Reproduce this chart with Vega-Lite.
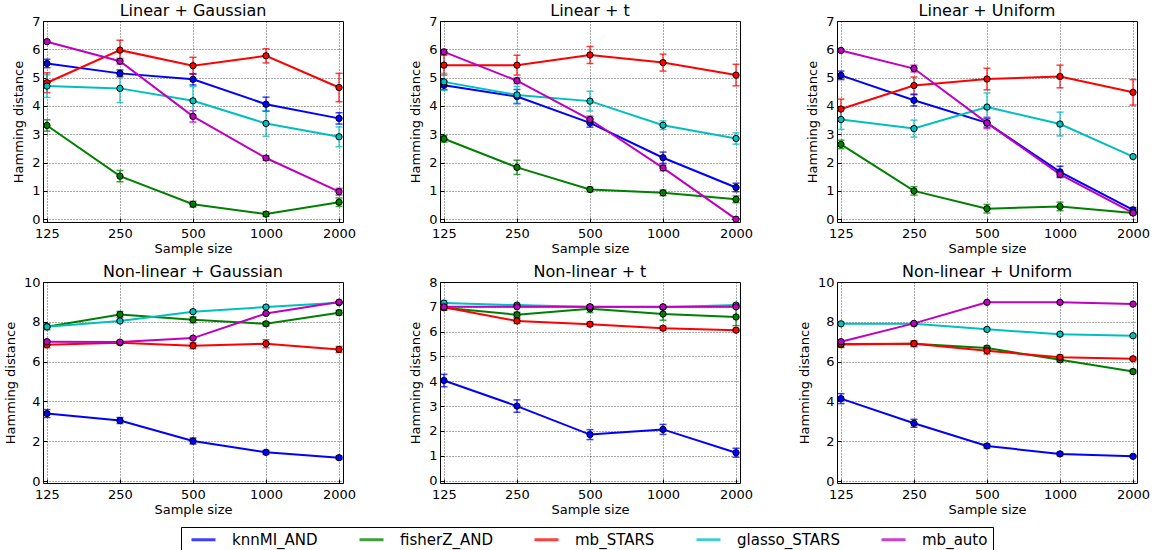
{
  "$schema": "https://vega.github.io/schema/vega-lite/v6.json",
  "padding": {"left": 3, "top": 2, "right": 0, "bottom": 0},
  "background": "white",
  "datasets": {
    "d": [
      {"panel":"LG","method":"knnMI_AND","n":125,"hd":5.50,"err":0.15},
      {"panel":"LG","method":"knnMI_AND","n":250,"hd":5.15,"err":0.12},
      {"panel":"LG","method":"knnMI_AND","n":500,"hd":4.94,"err":0.2},
      {"panel":"LG","method":"knnMI_AND","n":1000,"hd":4.06,"err":0.25},
      {"panel":"LG","method":"knnMI_AND","n":2000,"hd":3.56,"err":0.2},
      {"panel":"LG","method":"fisherZ_AND","n":125,"hd":3.31,"err":0.2},
      {"panel":"LG","method":"fisherZ_AND","n":250,"hd":1.52,"err":0.2},
      {"panel":"LG","method":"fisherZ_AND","n":500,"hd":0.53,"err":0.1},
      {"panel":"LG","method":"fisherZ_AND","n":1000,"hd":0.18,"err":0.08},
      {"panel":"LG","method":"fisherZ_AND","n":2000,"hd":0.60,"err":0.15},
      {"panel":"LG","method":"mb_STARS","n":125,"hd":4.82,"err":0.35},
      {"panel":"LG","method":"mb_STARS","n":250,"hd":5.97,"err":0.35},
      {"panel":"LG","method":"mb_STARS","n":500,"hd":5.42,"err":0.3},
      {"panel":"LG","method":"mb_STARS","n":1000,"hd":5.77,"err":0.25},
      {"panel":"LG","method":"mb_STARS","n":2000,"hd":4.65,"err":0.5},
      {"panel":"LG","method":"glasso_STARS","n":125,"hd":4.70,"err":0.4},
      {"panel":"LG","method":"glasso_STARS","n":250,"hd":4.62,"err":0.5},
      {"panel":"LG","method":"glasso_STARS","n":500,"hd":4.18,"err":0.5},
      {"panel":"LG","method":"glasso_STARS","n":1000,"hd":3.38,"err":0.45},
      {"panel":"LG","method":"glasso_STARS","n":2000,"hd":2.91,"err":0.35},
      {"panel":"LG","method":"mb_auto","n":125,"hd":6.27,"err":0.05},
      {"panel":"LG","method":"mb_auto","n":250,"hd":5.58,"err":0.1},
      {"panel":"LG","method":"mb_auto","n":500,"hd":3.63,"err":0.2},
      {"panel":"LG","method":"mb_auto","n":1000,"hd":2.16,"err":0.08},
      {"panel":"LG","method":"mb_auto","n":2000,"hd":0.97,"err":0.12},

      {"panel":"Lt","method":"knnMI_AND","n":125,"hd":4.73,"err":0.15},
      {"panel":"Lt","method":"knnMI_AND","n":250,"hd":4.33,"err":0.25},
      {"panel":"Lt","method":"knnMI_AND","n":500,"hd":3.40,"err":0.15},
      {"panel":"Lt","method":"knnMI_AND","n":1000,"hd":2.17,"err":0.2},
      {"panel":"Lt","method":"knnMI_AND","n":2000,"hd":1.12,"err":0.15},
      {"panel":"Lt","method":"fisherZ_AND","n":125,"hd":2.84,"err":0.12},
      {"panel":"Lt","method":"fisherZ_AND","n":250,"hd":1.83,"err":0.25},
      {"panel":"Lt","method":"fisherZ_AND","n":500,"hd":1.05,"err":0.08},
      {"panel":"Lt","method":"fisherZ_AND","n":1000,"hd":0.93,"err":0.1},
      {"panel":"Lt","method":"fisherZ_AND","n":2000,"hd":0.70,"err":0.12},
      {"panel":"Lt","method":"mb_STARS","n":125,"hd":5.44,"err":0.35},
      {"panel":"Lt","method":"mb_STARS","n":250,"hd":5.44,"err":0.35},
      {"panel":"Lt","method":"mb_STARS","n":500,"hd":5.80,"err":0.3},
      {"panel":"Lt","method":"mb_STARS","n":1000,"hd":5.53,"err":0.3},
      {"panel":"Lt","method":"mb_STARS","n":2000,"hd":5.09,"err":0.38},
      {"panel":"Lt","method":"glasso_STARS","n":125,"hd":4.85,"err":0.3},
      {"panel":"Lt","method":"glasso_STARS","n":250,"hd":4.39,"err":0.3},
      {"panel":"Lt","method":"glasso_STARS","n":500,"hd":4.17,"err":0.35},
      {"panel":"Lt","method":"glasso_STARS","n":1000,"hd":3.32,"err":0.15},
      {"panel":"Lt","method":"glasso_STARS","n":2000,"hd":2.85,"err":0.2},
      {"panel":"Lt","method":"mb_auto","n":125,"hd":5.91,"err":0.08},
      {"panel":"Lt","method":"mb_auto","n":250,"hd":4.89,"err":0.1},
      {"panel":"Lt","method":"mb_auto","n":500,"hd":3.52,"err":0.12},
      {"panel":"Lt","method":"mb_auto","n":1000,"hd":1.81,"err":0.1},
      {"panel":"Lt","method":"mb_auto","n":2000,"hd":0.0,"err":0.0},

      {"panel":"LU","method":"knnMI_AND","n":125,"hd":5.08,"err":0.15},
      {"panel":"LU","method":"knnMI_AND","n":250,"hd":4.20,"err":0.2},
      {"panel":"LU","method":"knnMI_AND","n":500,"hd":3.40,"err":0.15},
      {"panel":"LU","method":"knnMI_AND","n":1000,"hd":1.67,"err":0.2},
      {"panel":"LU","method":"knnMI_AND","n":2000,"hd":0.33,"err":0.08},
      {"panel":"LU","method":"fisherZ_AND","n":125,"hd":2.64,"err":0.15},
      {"panel":"LU","method":"fisherZ_AND","n":250,"hd":1.00,"err":0.15},
      {"panel":"LU","method":"fisherZ_AND","n":500,"hd":0.37,"err":0.15},
      {"panel":"LU","method":"fisherZ_AND","n":1000,"hd":0.45,"err":0.15},
      {"panel":"LU","method":"fisherZ_AND","n":2000,"hd":0.22,"err":0.05},
      {"panel":"LU","method":"mb_STARS","n":125,"hd":3.89,"err":0.35},
      {"panel":"LU","method":"mb_STARS","n":250,"hd":4.72,"err":0.3},
      {"panel":"LU","method":"mb_STARS","n":500,"hd":4.95,"err":0.38},
      {"panel":"LU","method":"mb_STARS","n":1000,"hd":5.04,"err":0.4},
      {"panel":"LU","method":"mb_STARS","n":2000,"hd":4.48,"err":0.45},
      {"panel":"LU","method":"glasso_STARS","n":125,"hd":3.52,"err":0.35},
      {"panel":"LU","method":"glasso_STARS","n":250,"hd":3.20,"err":0.3},
      {"panel":"LU","method":"glasso_STARS","n":500,"hd":3.96,"err":0.5},
      {"panel":"LU","method":"glasso_STARS","n":1000,"hd":3.36,"err":0.42},
      {"panel":"LU","method":"glasso_STARS","n":2000,"hd":2.21,"err":0.05},
      {"panel":"LU","method":"mb_auto","n":125,"hd":5.96,"err":0.05},
      {"panel":"LU","method":"mb_auto","n":250,"hd":5.32,"err":0.12},
      {"panel":"LU","method":"mb_auto","n":500,"hd":3.40,"err":0.2},
      {"panel":"LU","method":"mb_auto","n":1000,"hd":1.58,"err":0.08},
      {"panel":"LU","method":"mb_auto","n":2000,"hd":0.22,"err":0.05},

      {"panel":"NG","method":"knnMI_AND","n":125,"hd":3.39,"err":0.2},
      {"panel":"NG","method":"knnMI_AND","n":250,"hd":3.04,"err":0.15},
      {"panel":"NG","method":"knnMI_AND","n":500,"hd":2.01,"err":0.15},
      {"panel":"NG","method":"knnMI_AND","n":1000,"hd":1.44,"err":0.1},
      {"panel":"NG","method":"knnMI_AND","n":2000,"hd":1.17,"err":0.08},
      {"panel":"NG","method":"fisherZ_AND","n":125,"hd":7.75,"err":0.15},
      {"panel":"NG","method":"fisherZ_AND","n":250,"hd":8.37,"err":0.15},
      {"panel":"NG","method":"fisherZ_AND","n":500,"hd":8.10,"err":0.15},
      {"panel":"NG","method":"fisherZ_AND","n":1000,"hd":7.90,"err":0.1},
      {"panel":"NG","method":"fisherZ_AND","n":2000,"hd":8.46,"err":0.12},
      {"panel":"NG","method":"mb_STARS","n":125,"hd":6.85,"err":0.15},
      {"panel":"NG","method":"mb_STARS","n":250,"hd":6.95,"err":0.1},
      {"panel":"NG","method":"mb_STARS","n":500,"hd":6.80,"err":0.15},
      {"panel":"NG","method":"mb_STARS","n":1000,"hd":6.90,"err":0.2},
      {"panel":"NG","method":"mb_STARS","n":2000,"hd":6.61,"err":0.15},
      {"panel":"NG","method":"glasso_STARS","n":125,"hd":7.75,"err":0.1},
      {"panel":"NG","method":"glasso_STARS","n":250,"hd":8.04,"err":0.08},
      {"panel":"NG","method":"glasso_STARS","n":500,"hd":8.51,"err":0.08},
      {"panel":"NG","method":"glasso_STARS","n":1000,"hd":8.74,"err":0.08},
      {"panel":"NG","method":"glasso_STARS","n":2000,"hd":8.96,"err":0.05},
      {"panel":"NG","method":"mb_auto","n":125,"hd":7.00,"err":0.05},
      {"panel":"NG","method":"mb_auto","n":250,"hd":6.98,"err":0.05},
      {"panel":"NG","method":"mb_auto","n":500,"hd":7.18,"err":0.05},
      {"panel":"NG","method":"mb_auto","n":1000,"hd":8.42,"err":0.05},
      {"panel":"NG","method":"mb_auto","n":2000,"hd":8.99,"err":0.03},

      {"panel":"Nt","method":"knnMI_AND","n":125,"hd":4.03,"err":0.25},
      {"panel":"Nt","method":"knnMI_AND","n":250,"hd":3.00,"err":0.25},
      {"panel":"Nt","method":"knnMI_AND","n":500,"hd":1.85,"err":0.2},
      {"panel":"Nt","method":"knnMI_AND","n":1000,"hd":2.06,"err":0.2},
      {"panel":"Nt","method":"knnMI_AND","n":2000,"hd":1.12,"err":0.18},
      {"panel":"Nt","method":"fisherZ_AND","n":125,"hd":6.96,"err":0.1},
      {"panel":"Nt","method":"fisherZ_AND","n":250,"hd":6.68,"err":0.1},
      {"panel":"Nt","method":"fisherZ_AND","n":500,"hd":6.92,"err":0.15},
      {"panel":"Nt","method":"fisherZ_AND","n":1000,"hd":6.71,"err":0.25},
      {"panel":"Nt","method":"fisherZ_AND","n":2000,"hd":6.59,"err":0.35},
      {"panel":"Nt","method":"mb_STARS","n":125,"hd":6.98,"err":0.1},
      {"panel":"Nt","method":"mb_STARS","n":250,"hd":6.43,"err":0.1},
      {"panel":"Nt","method":"mb_STARS","n":500,"hd":6.30,"err":0.08},
      {"panel":"Nt","method":"mb_STARS","n":1000,"hd":6.14,"err":0.08},
      {"panel":"Nt","method":"mb_STARS","n":2000,"hd":6.06,"err":0.05},
      {"panel":"Nt","method":"glasso_STARS","n":125,"hd":7.15,"err":0.1},
      {"panel":"Nt","method":"glasso_STARS","n":250,"hd":7.07,"err":0.05},
      {"panel":"Nt","method":"glasso_STARS","n":500,"hd":6.99,"err":0.05},
      {"panel":"Nt","method":"glasso_STARS","n":1000,"hd":6.98,"err":0.05},
      {"panel":"Nt","method":"glasso_STARS","n":2000,"hd":7.07,"err":0.05},
      {"panel":"Nt","method":"mb_auto","n":125,"hd":7.0,"err":0.0},
      {"panel":"Nt","method":"mb_auto","n":250,"hd":7.0,"err":0.0},
      {"panel":"Nt","method":"mb_auto","n":500,"hd":7.0,"err":0.0},
      {"panel":"Nt","method":"mb_auto","n":1000,"hd":7.0,"err":0.0},
      {"panel":"Nt","method":"mb_auto","n":2000,"hd":7.0,"err":0.0},

      {"panel":"NU","method":"knnMI_AND","n":125,"hd":4.14,"err":0.25},
      {"panel":"NU","method":"knnMI_AND","n":250,"hd":2.90,"err":0.2},
      {"panel":"NU","method":"knnMI_AND","n":500,"hd":1.76,"err":0.1},
      {"panel":"NU","method":"knnMI_AND","n":1000,"hd":1.36,"err":0.08},
      {"panel":"NU","method":"knnMI_AND","n":2000,"hd":1.24,"err":0.05},
      {"panel":"NU","method":"fisherZ_AND","n":125,"hd":6.86,"err":0.15},
      {"panel":"NU","method":"fisherZ_AND","n":250,"hd":6.90,"err":0.1},
      {"panel":"NU","method":"fisherZ_AND","n":500,"hd":6.68,"err":0.1},
      {"panel":"NU","method":"fisherZ_AND","n":1000,"hd":6.09,"err":0.1},
      {"panel":"NU","method":"fisherZ_AND","n":2000,"hd":5.50,"err":0.1},
      {"panel":"NU","method":"mb_STARS","n":125,"hd":6.88,"err":0.15},
      {"panel":"NU","method":"mb_STARS","n":250,"hd":6.90,"err":0.15},
      {"panel":"NU","method":"mb_STARS","n":500,"hd":6.54,"err":0.15},
      {"panel":"NU","method":"mb_STARS","n":1000,"hd":6.22,"err":0.1},
      {"panel":"NU","method":"mb_STARS","n":2000,"hd":6.14,"err":0.08},
      {"panel":"NU","method":"glasso_STARS","n":125,"hd":7.90,"err":0.1},
      {"panel":"NU","method":"glasso_STARS","n":250,"hd":7.90,"err":0.1},
      {"panel":"NU","method":"glasso_STARS","n":500,"hd":7.62,"err":0.08},
      {"panel":"NU","method":"glasso_STARS","n":1000,"hd":7.38,"err":0.08},
      {"panel":"NU","method":"glasso_STARS","n":2000,"hd":7.30,"err":0.08},
      {"panel":"NU","method":"mb_auto","n":125,"hd":7.00,"err":0.05},
      {"panel":"NU","method":"mb_auto","n":250,"hd":7.92,"err":0.05},
      {"panel":"NU","method":"mb_auto","n":500,"hd":8.98,"err":0.03},
      {"panel":"NU","method":"mb_auto","n":1000,"hd":8.98,"err":0.03},
      {"panel":"NU","method":"mb_auto","n":2000,"hd":8.89,"err":0.03}
    ]
  },
  "columns": 3,
  "bounds": "flush",
  "spacing": {"row": 60, "column": 97},
  "concat": [
    {
      "width": 300, "height": 201, "title": "Linear + Gaussian",
      "data": {"name": "d"},
      "transform": [{"filter": "datum.panel === 'LG'"}],
      "encoding": {
        "x": {"field": "n", "type": "quantitative", "scale": {"type": "log", "domain": [120.4, 2077], "nice": false}, "axis": {"values": [125, 250, 500, 1000, 2000], "format": "d", "title": "Sample size"}},
        "y": {"field": "hd", "type": "quantitative", "scale": {"domain": [-0.1, 7], "nice": false, "zero": false}, "axis": {"values": [0, 1, 2, 3, 4, 5, 6, 7], "title": "Hamming distance"}},
        "color": {"field": "method", "type": "nominal", "scale": {"domain": ["knnMI_AND", "fisherZ_AND", "mb_STARS", "glasso_STARS", "mb_auto"], "range": ["#0000ff", "#008000", "#ff0000", "#00bfbf", "#bf00bf"]}, "legend": {"orient": "none", "legendX": 138, "legendY": 506, "direction": "horizontal", "columns": 5, "title": null}}
      },
      "layer": [
        {"mark": {"type": "errorbar", "ticks": {"size": 7}, "thickness": 1.5, "opacity": 0.75}, "encoding": {"yError": {"field": "err"}}},
        {"mark": {"type": "line", "strokeWidth": 2}},
        {"mark": {"type": "point", "shape": "circle", "filled": true, "size": 40, "stroke": "black", "strokeWidth": 1, "opacity": 1}}
      ]
    },
    {
      "width": 300, "height": 201, "title": "Linear + t",
      "data": {"name": "d"},
      "transform": [{"filter": "datum.panel === 'Lt'"}],
      "encoding": {
        "x": {"field": "n", "type": "quantitative", "scale": {"type": "log", "domain": [120.4, 2077], "nice": false}, "axis": {"values": [125, 250, 500, 1000, 2000], "format": "d", "title": "Sample size"}},
        "y": {"field": "hd", "type": "quantitative", "scale": {"domain": [-0.1, 7], "nice": false, "zero": false}, "axis": {"values": [0, 1, 2, 3, 4, 5, 6, 7], "title": "Hamming distance"}},
        "color": {"field": "method", "type": "nominal", "scale": {"domain": ["knnMI_AND", "fisherZ_AND", "mb_STARS", "glasso_STARS", "mb_auto"], "range": ["#0000ff", "#008000", "#ff0000", "#00bfbf", "#bf00bf"]}, "legend": {"orient": "none", "legendX": 138, "legendY": 506, "direction": "horizontal", "columns": 5, "title": null}}
      },
      "layer": [
        {"mark": {"type": "errorbar", "ticks": {"size": 7}, "thickness": 1.5, "opacity": 0.75}, "encoding": {"yError": {"field": "err"}}},
        {"mark": {"type": "line", "strokeWidth": 2}},
        {"mark": {"type": "point", "shape": "circle", "filled": true, "size": 40, "stroke": "black", "strokeWidth": 1, "opacity": 1}}
      ]
    },
    {
      "width": 300, "height": 201, "title": "Linear + Uniform",
      "data": {"name": "d"},
      "transform": [{"filter": "datum.panel === 'LU'"}],
      "encoding": {
        "x": {"field": "n", "type": "quantitative", "scale": {"type": "log", "domain": [120.4, 2077], "nice": false}, "axis": {"values": [125, 250, 500, 1000, 2000], "format": "d", "title": "Sample size"}},
        "y": {"field": "hd", "type": "quantitative", "scale": {"domain": [-0.1, 7], "nice": false, "zero": false}, "axis": {"values": [0, 1, 2, 3, 4, 5, 6, 7], "title": "Hamming distance"}},
        "color": {"field": "method", "type": "nominal", "scale": {"domain": ["knnMI_AND", "fisherZ_AND", "mb_STARS", "glasso_STARS", "mb_auto"], "range": ["#0000ff", "#008000", "#ff0000", "#00bfbf", "#bf00bf"]}, "legend": {"orient": "none", "legendX": 138, "legendY": 506, "direction": "horizontal", "columns": 5, "title": null}}
      },
      "layer": [
        {"mark": {"type": "errorbar", "ticks": {"size": 7}, "thickness": 1.5, "opacity": 0.75}, "encoding": {"yError": {"field": "err"}}},
        {"mark": {"type": "line", "strokeWidth": 2}},
        {"mark": {"type": "point", "shape": "circle", "filled": true, "size": 40, "stroke": "black", "strokeWidth": 1, "opacity": 1}}
      ]
    },
    {
      "width": 300, "height": 201, "title": "Non-linear + Gaussian",
      "data": {"name": "d"},
      "transform": [{"filter": "datum.panel === 'NG'"}],
      "encoding": {
        "x": {"field": "n", "type": "quantitative", "scale": {"type": "log", "domain": [120.4, 2077], "nice": false}, "axis": {"values": [125, 250, 500, 1000, 2000], "format": "d", "title": "Sample size"}},
        "y": {"field": "hd", "type": "quantitative", "scale": {"domain": [-0.1, 10], "nice": false, "zero": false}, "axis": {"values": [0, 2, 4, 6, 8, 10], "title": "Hamming distance"}},
        "color": {"field": "method", "type": "nominal", "scale": {"domain": ["knnMI_AND", "fisherZ_AND", "mb_STARS", "glasso_STARS", "mb_auto"], "range": ["#0000ff", "#008000", "#ff0000", "#00bfbf", "#bf00bf"]}, "legend": {"orient": "none", "legendX": 138, "legendY": 506, "direction": "horizontal", "columns": 5, "title": null}}
      },
      "layer": [
        {"mark": {"type": "errorbar", "ticks": {"size": 7}, "thickness": 1.5, "opacity": 0.75}, "encoding": {"yError": {"field": "err"}}},
        {"mark": {"type": "line", "strokeWidth": 2}},
        {"mark": {"type": "point", "shape": "circle", "filled": true, "size": 40, "stroke": "black", "strokeWidth": 1, "opacity": 1}}
      ]
    },
    {
      "width": 300, "height": 201, "title": "Non-linear + t",
      "data": {"name": "d"},
      "transform": [{"filter": "datum.panel === 'Nt'"}],
      "encoding": {
        "x": {"field": "n", "type": "quantitative", "scale": {"type": "log", "domain": [120.4, 2077], "nice": false}, "axis": {"values": [125, 250, 500, 1000, 2000], "format": "d", "title": "Sample size"}},
        "y": {"field": "hd", "type": "quantitative", "scale": {"domain": [-0.1, 8], "nice": false, "zero": false}, "axis": {"values": [0, 1, 2, 3, 4, 5, 6, 7, 8], "title": "Hamming distance"}},
        "color": {"field": "method", "type": "nominal", "scale": {"domain": ["knnMI_AND", "fisherZ_AND", "mb_STARS", "glasso_STARS", "mb_auto"], "range": ["#0000ff", "#008000", "#ff0000", "#00bfbf", "#bf00bf"]}, "legend": {"orient": "none", "legendX": 138, "legendY": 506, "direction": "horizontal", "columns": 5, "title": null}}
      },
      "layer": [
        {"mark": {"type": "errorbar", "ticks": {"size": 7}, "thickness": 1.5, "opacity": 0.75}, "encoding": {"yError": {"field": "err"}}},
        {"mark": {"type": "line", "strokeWidth": 2}},
        {"mark": {"type": "point", "shape": "circle", "filled": true, "size": 40, "stroke": "black", "strokeWidth": 1, "opacity": 1}}
      ]
    },
    {
      "width": 300, "height": 201, "title": "Non-linear + Uniform",
      "data": {"name": "d"},
      "transform": [{"filter": "datum.panel === 'NU'"}],
      "encoding": {
        "x": {"field": "n", "type": "quantitative", "scale": {"type": "log", "domain": [120.4, 2077], "nice": false}, "axis": {"values": [125, 250, 500, 1000, 2000], "format": "d", "title": "Sample size"}},
        "y": {"field": "hd", "type": "quantitative", "scale": {"domain": [-0.1, 10], "nice": false, "zero": false}, "axis": {"values": [0, 2, 4, 6, 8, 10], "title": "Hamming distance"}},
        "color": {"field": "method", "type": "nominal", "scale": {"domain": ["knnMI_AND", "fisherZ_AND", "mb_STARS", "glasso_STARS", "mb_auto"], "range": ["#0000ff", "#008000", "#ff0000", "#00bfbf", "#bf00bf"]}, "legend": {"orient": "none", "legendX": 138, "legendY": 506, "direction": "horizontal", "columns": 5, "title": null}}
      },
      "layer": [
        {"mark": {"type": "errorbar", "ticks": {"size": 7}, "thickness": 1.5, "opacity": 0.75}, "encoding": {"yError": {"field": "err"}}},
        {"mark": {"type": "line", "strokeWidth": 2}},
        {"mark": {"type": "point", "shape": "circle", "filled": true, "size": 40, "stroke": "black", "strokeWidth": 1, "opacity": 1}}
      ]
    }
  ],
  "config": {
    "font": "DejaVu Sans",
    "view": {"stroke": "black", "strokeWidth": 1},
    "title": {"fontSize": 16, "fontWeight": "normal", "offset": -4, "color": "black"},
    "axis": {
      "grid": true, "gridColor": "black", "gridDash": [1, 2], "gridOpacity": 0.85, "gridWidth": 0.8,
      "domain": false, "tickColor": "black", "tickSize": -4,
      "labelFontSize": 13, "labelColor": "black", "labelFlush": false, "labelOverlap": false,
      "titleFontSize": 13, "titleFontWeight": "normal", "titleColor": "black"
    },
    "axisX": {"titlePadding": 2, "labelPadding": 9},
    "axisY": {"titlePadding": 6, "labelPadding": 7},
    "legend": {
      "strokeColor": "black", "fillColor": "white", "padding": 5, "cornerRadius": 0,
      "symbolType": "M-0.5,0H5.5", "symbolSize": 64, "symbolStrokeWidth": 3, "symbolFillColor": "transparent",
      "labelFontSize": 15, "labelColor": "black", "labelOffset": 31, "columnPadding": 35, "labelLimit": 200
    }
  }
}
